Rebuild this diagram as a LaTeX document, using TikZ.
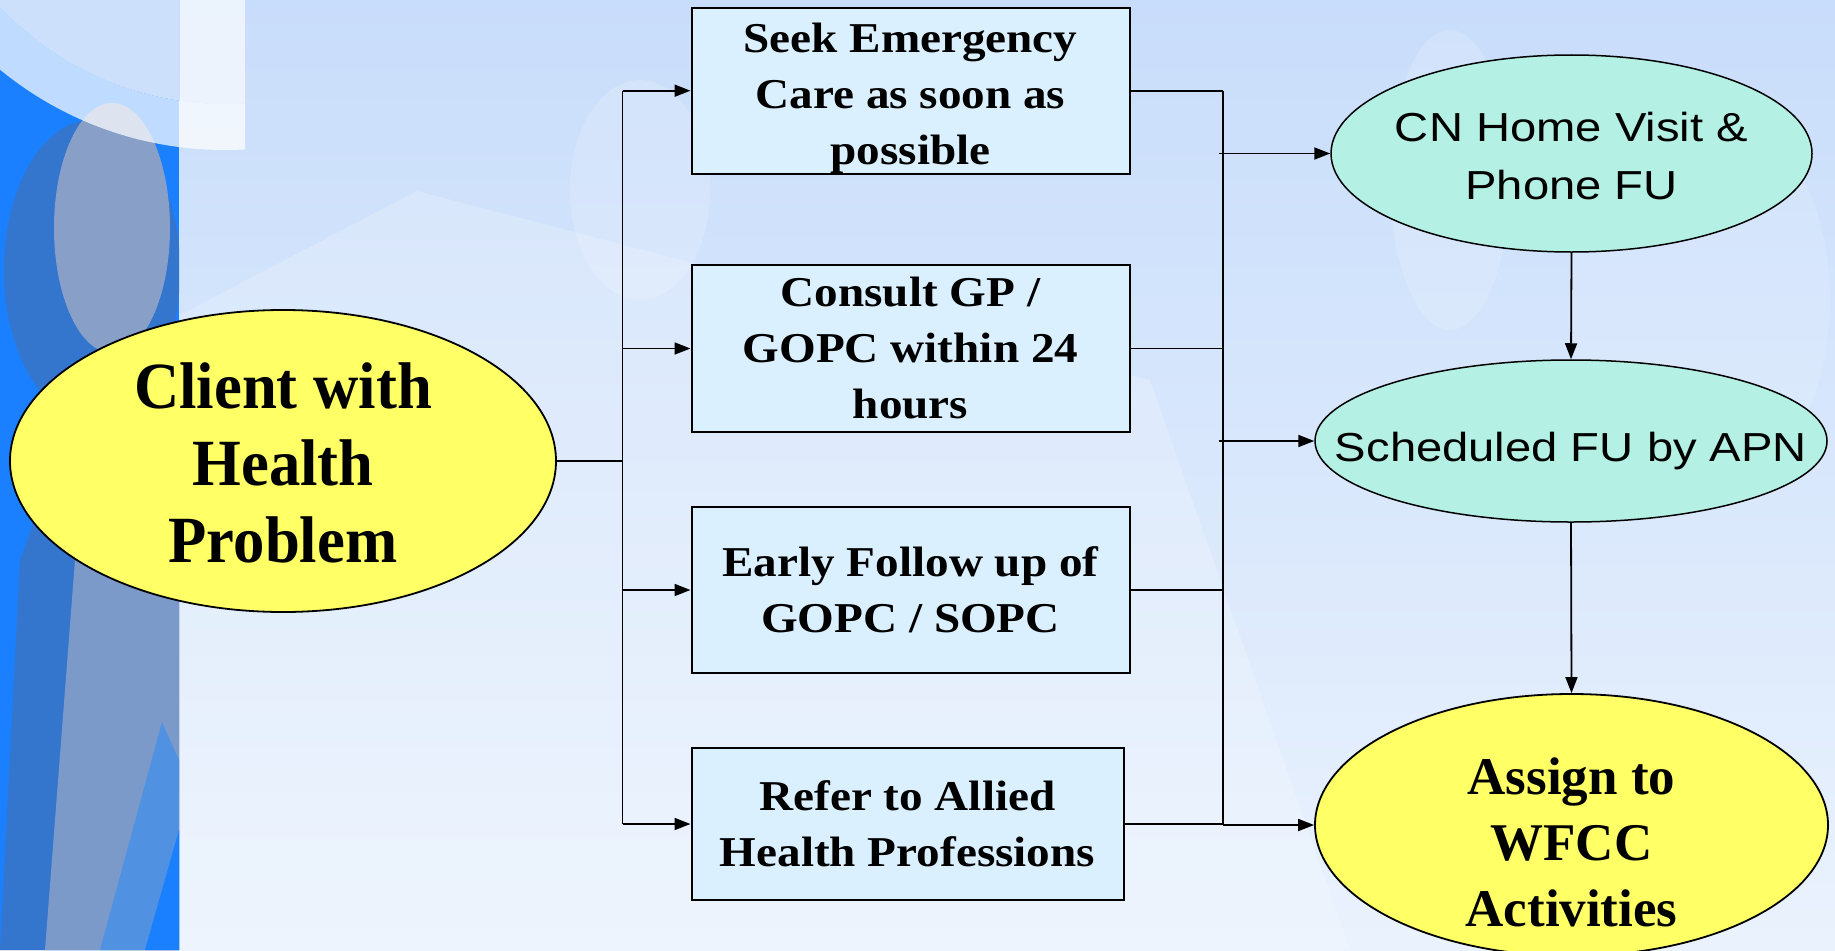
\documentclass[tikz,border=0pt]{standalone}
\usepackage{fontspec}
\setmainfont{Liberation Serif}
\newfontfamily\boxfont[FakeStretch=1.11]{Liberation Serif}
\newfontfamily\clientfont[FakeStretch=0.95]{Liberation Serif}
\newfontfamily\ovalsans[FakeStretch=1.165]{Liberation Sans}
\usetikzlibrary{shapes.geometric,arrows.meta,calc}
\definecolor{boxfill}{RGB}{219,240,254}
\definecolor{yel}{RGB}{255,255,102}
\definecolor{tealfill}{RGB}{180,240,228}
\definecolor{bgtop}{RGB}{200,221,251}
\definecolor{bgbot}{RGB}{234,242,253}
\definecolor{stripblue}{RGB}{26,128,255}
\definecolor{darkfig}{RGB}{52,118,206}
\definecolor{greyfig}{RGB}{136,160,200}
\definecolor{midfig}{RGB}{80,145,225}
\begin{document}
\begin{tikzpicture}[x=1pt,y=-1pt,
  stepbox/.style={draw=black,line width=2pt,fill=boxfill,rectangle,inner sep=0pt,align=center,
    font=\boxfont\bfseries\fontsize{42.5}{56}\selectfont},
  yelloval/.style={draw=black,line width=1.8pt,fill=yel,ellipse,inner sep=0pt},
  tealoval/.style={draw=black,line width=1.5pt,fill=tealfill,ellipse,inner sep=0pt},
  sanstext/.style={inner sep=0pt,align=center,font=\ovalsans\fontsize{40.5}{58}\selectfont},
  link/.style={draw=black,line width=1.8pt},
  arr/.style={link,-{Triangle[length=16pt,width=12pt]}}
]
\useasboundingbox (0,0) rectangle (1835,950);
% ---------- background ----------
\shade[top color=bgtop,bottom color=bgbot] (0,0) rectangle (1835,950);
\fill[white,opacity=0.2] (180,315) -- (417,191) -- (700,265) -- (1150,380) -- (1350,950) -- (180,950) -- cycle;
\fill[white,opacity=0.16] (640,190) ellipse [x radius=70, y radius=110];
\fill[white,opacity=0.16] (1450,180) ellipse [x radius=60, y radius=150];
\fill[white,opacity=0.12] (1700,300) ellipse [x radius=130, y radius=200];
% left strip
\begin{scope}
  \clip (0,0) rectangle (179,950);
  \fill[stripblue] (0,0) rectangle (179,950);
  \fill[darkfig] (92,270) ellipse [x radius=88, y radius=150];
  \fill[greyfig] (112,228) ellipse [x radius=58, y radius=125];
  \fill[darkfig] (0,950) -- (20,560) -- (60,450) -- (179,420) -- (179,950) -- cycle;
  \fill[greyfig!85!darkfig] (45,950) -- (75,560) -- (110,470) -- (179,440) -- (179,950) -- cycle;
  \fill[midfig] (100,950) -- (162,722) -- (179,760) -- (179,950) -- cycle;
  \fill[stripblue] (145,950) -- (179,830) -- (179,950) -- cycle;
  \fill[bgtop!92!white] (225,-205) circle [radius=309];
\end{scope}
% white arc and panel top left
\begin{scope}
  \clip (0,0) rectangle (245,200);
  \fill[white,opacity=0.72,even odd rule] (225,-205) circle [radius=355] (225,-205) circle [radius=309];
\end{scope}
\begin{scope}
  \clip (225,-205) circle [radius=309];
  \fill[white,opacity=0.65] (180,0) rectangle (245,150);
\end{scope}
% ---------- nodes ----------
\node[yelloval,minimum width=546pt,minimum height=302pt] (client) at (283,461) {};
\node[inner sep=0pt,align=center,font=\clientfont\bfseries\fontsize{66}{77}\selectfont]
  (clientT) at (283,462.5) {Client with\\Health\\Problem};
\node[stepbox,minimum width=438pt,minimum height=166pt] (b1) at (910.5,90.7)
  {\rule{0pt}{44pt}Seek Emergency\\Care as soon as\\possible};
\node[stepbox,minimum width=438pt,minimum height=167pt] (b2) at (910.5,348.5)
  {Consult GP /\\GOPC within 24\\hours};
\node[stepbox,minimum width=438pt,minimum height=166pt] (b3) at (910.5,590)
  {Early Follow up of\\GOPC / SOPC};
\node[stepbox,minimum width=432pt,minimum height=152pt] (b4) at (907.5,824)
  {Refer to Allied\\Health Professions};
\node[tealoval,minimum width=481pt,minimum height=197pt] (cn) at (1571.5,153.5) {};
\node[sanstext] (cnT) at (1571.5,156.5) {CN Home Visit \&\\Phone FU};
\node[tealoval,minimum width=512pt,minimum height=162pt] (sched) at (1571,441) {};
\node[sanstext,anchor=base] (schedT) at (1571,461) {Scheduled FU by APN};
\node[yelloval,minimum width=513pt,minimum height=262pt] (assign) at (1571.5,825) {};
\node[inner sep=0pt,align=center,font=\bfseries\fontsize{53}{66}\selectfont]
  (assignT) at (1571.5,842.5) {Assign to\\WFCC\\Activities};
% ---------- connectors ----------
\coordinate (tl) at (622.5,0);
\coordinate (tr) at (1223,0);
\coordinate (tro) at (1219,0);
\draw[link] (client.east) -- (tl |- client.east);
\draw[link] (tl |- b1.west) -- (tl |- b4.west);
\foreach \b in {b1,b2,b3,b4} {
  \draw[arr] (tl |- \b.west) -- (\b.west);
  \draw[link] (\b.east) -- (tr |- \b.east);
}
\draw[link] (tr |- b1.east) -- (tr |- b4.east);
\draw[arr] (tro |- cn.west) -- (cn.west);
\draw[arr] (tro |- sched.west) -- (sched.west);
\draw[arr] (tr |- assign.west) -- (assign.west);
\draw[arr] (cn.south) -- (sched.north);
\draw[arr] (sched.south) -- (assign.north);
\end{tikzpicture}
\end{document}
